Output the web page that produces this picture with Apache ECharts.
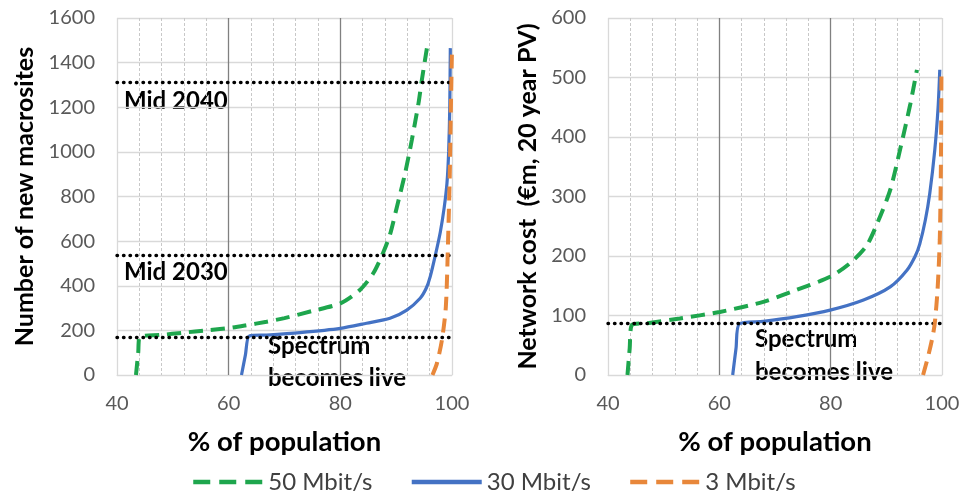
<!DOCTYPE html>
<html><head><meta charset="utf-8">
<script src="https://cdn.jsdelivr.net/npm/echarts@6/dist/echarts.min.js"></script>
<style>html,body{margin:0;padding:0;background:#fff}#c{width:968px;height:495px}</style>
</head><body><div id="c"></div>
<script>
const seriesNames = ['50 Mbit/s', '30 Mbit/s', '3 Mbit/s'];
const xTicks = [40, 60, 80, 100];
// Left chart: number of new macrosites
const sites50 = [[43.4,0],[43.8,100],[44.1,172],[47.7,179],[52,190],[56,200],[60,210],[63,222],[66.8,239],[70,255],[75,287],[80,321],[83.5,381],[85.9,456],[87.7,550],[88.9,630],[90.1,750],[91.6,904],[92.8,1053],[94.0,1218],[94.6,1322],[95.5,1464]];
const sites30 = [[62.3,0],[63,90],[63.7,175],[66.8,179],[72.8,190],[80,209],[84.7,232],[88.9,254],[91.9,291],[94.3,344],[95.4,390],[96.1,441],[97.0,535],[97.9,640],[98.6,750],[99.1,860],[99.4,1000],[99.6,1200],[99.7,1465]];
const sites3 = [[96.5,0],[97.3,52],[98.2,157],[98.9,306],[99.3,605],[99.6,900],[99.8,1200],[100,1465]];
// Right chart: network cost (€m, 20 year PV)
const cost50 = [[43.5,0],[43.9,45],[44.3,84],[47,87],[52.9,95],[60.1,106],[67.9,123],[73.9,143],[79.9,165],[83.5,188],[86.5,218],[88.6,260],[90.7,311],[92.5,380],[94.3,455],[95.5,513]];
const cost30 = [[62.4,0],[63,45],[63.6,86],[67.9,90],[73.9,98],[79.9,109],[85.9,126],[90.7,148],[93.7,176],[95.2,200],[96.0,220],[97.0,260],[97.8,305],[98.7,378],[99.3,450],[99.6,513]];
const cost3 = [[96.6,0],[97.5,31],[98.3,64],[98.7,87],[99.2,143],[99.6,227],[99.8,350],[99.9,513]];
// Reference lines
const sitesMarks = [1310, 535, 170];
const costMarks = [87];

const FONT = 'Lato';
const colors = ['#1ea64d', '#4472c4', '#e8873a'];
const chart = echarts.init(document.getElementById('c'));

function xAxis(gi) {
  return {
    type: 'value', gridIndex: gi, min: 40, max: 100, interval: 20,
    name: '% of population', nameLocation: 'middle', nameGap: 53,
    nameTextStyle: {fontFamily: FONT, fontWeight: 'bold', fontSize: 27.5, color: '#000'},
    axisLine: {show: true, lineStyle: {color: '#d9d9d9', width: 1}},
    axisTick: {show: false},
    axisLabel: {fontFamily: FONT, fontSize: 20, color: '#595959', margin: 19},
    splitLine: {show: true, lineStyle: {color: ['#d9d9d9', '#808080', '#808080', '#d9d9d9'], width: 1.3}},
    minorTick: {show: false, splitNumber: 5},
    minorSplitLine: {show: true, lineStyle: {color: '#c8c8c8', width: 1, type: [3, 2]}}
  };
}
function yAxis(gi, max, interval, name, gap) {
  return {
    type: 'value', gridIndex: gi, min: 0, max: max, interval: interval,
    name: name, nameLocation: 'middle', nameGap: gap,
    nameTextStyle: {fontFamily: FONT, fontWeight: 'bold', fontSize: 25, color: '#000'},
    axisLine: {show: false}, axisTick: {show: false},
    axisLabel: {fontFamily: FONT, fontSize: 20, color: '#595959', margin: 22, formatter: v => String(v)},
    splitLine: {show: true, lineStyle: {color: '#d9d9d9', width: 1.3}}
  };
}
function marks(vals) {
  return {
    silent: true, symbol: 'none', label: {show: false},
    lineStyle: {color: '#000', width: 3.4, type: [0.5, 6], cap: 'round'},
    data: vals.map(v => ({yAxis: v}))
  };
}
function line(name, data, gi, idx, ml) {
  const dashed = idx !== 1;
  const s = {
    name: name, type: 'line', xAxisIndex: gi, yAxisIndex: gi, data: data,
    symbol: 'none', smooth: 0.25,
    lineStyle: {color: colors[idx], width: dashed ? 4 : 3.2, type: dashed ? [14, 8] : 'solid'},
    itemStyle: {color: colors[idx]}, z: 3 + idx
  };
  if (ml) s.markLine = ml;
  return s;
}
const txt = (x, y, t) => ({type: 'text', left: x, top: y, style: {text: t, fontFamily: FONT, fontWeight: 'bold', fontSize: 24, fill: '#000', verticalAlign: 'middle'}});

chart.setOption({
  animation: false,
  grid: [
    {left: 117, right: 516, top: 18, bottom: 120},
    {left: 608, right: 26, top: 18, bottom: 120}
  ],
  xAxis: [xAxis(0), xAxis(1)],
  yAxis: [
    yAxis(0, 1600, 200, 'Number of new macrosites', 80),
    yAxis(1, 600, 100, 'Network cost  (€m, 20 year PV)', 68)
  ],
  legend: {
    data: seriesNames.map((n, i) => ({
      name: n,
      lineStyle: {color: colors[i], width: 4.5, type: i === 1 ? 'solid' : [17, 9], cap: 'butt'}
    })),
    left: 186, top: 465, itemWidth: 70, itemHeight: 14, itemGap: 37,
    itemStyle: {opacity: 0},
    textStyle: {fontFamily: FONT, fontSize: 24, color: '#404040'}
  },
  series: [
    line(seriesNames[0], sites50, 0, 0, marks(sitesMarks)),
    line(seriesNames[1], sites30, 0, 1),
    line(seriesNames[2], sites3, 0, 2),
    line(seriesNames[0], cost50, 1, 0, marks(costMarks)),
    line(seriesNames[1], cost30, 1, 1),
    line(seriesNames[2], cost3, 1, 2)
  ],
  graphic: [
    txt(124, 89, 'Mid 2040'),
    txt(124, 260, 'Mid 2030'),
    txt(268, 334, 'Spectrum'),
    txt(268, 366, 'becomes live'),
    txt(755, 327, 'Spectrum'),
    txt(755, 360, 'becomes live')
  ]
});
</script></body></html>
